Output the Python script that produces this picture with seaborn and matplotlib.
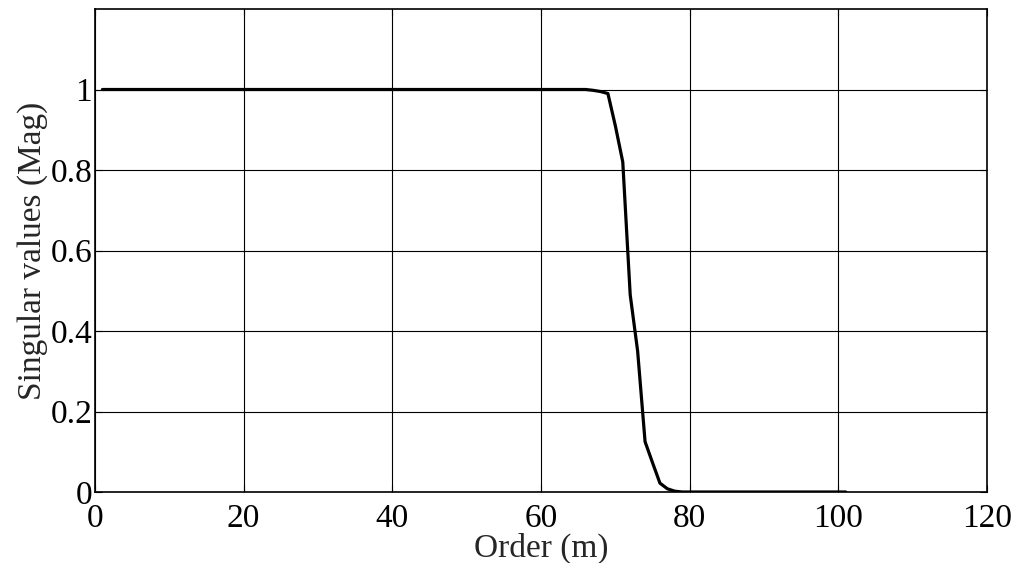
import matplotlib
matplotlib.use("Agg")
import matplotlib.pyplot as plt
import numpy as np
import pandas as pd
import seaborn as sns

# Normalized singular values versus model order
order = list(range(1, 102))
singular_values = [
    1.0, 1.0, 1.0, 1.0, 1.0, 1.0, 1.0, 1.0, 1.0, 1.0,
    1.0, 1.0, 1.0, 1.0, 1.0, 1.0, 1.0, 1.0, 1.0, 1.0,
    1.0, 1.0, 1.0, 1.0, 1.0, 1.0, 1.0, 1.0, 1.0, 1.0,
    1.0, 1.0, 1.0, 1.0, 1.0, 1.0, 1.0, 1.0, 1.0, 1.0,
    1.0, 1.0, 1.0, 1.0, 1.0, 1.0, 1.0, 1.0, 1.0, 1.0,
    1.0, 1.0, 1.0, 1.0, 1.0, 1.0, 1.0, 1.0, 1.0, 1.0,
    1.0, 1.0, 1.0, 1.0, 1.0, 1.0, 0.998, 0.995, 0.99, 0.91,
    0.82, 0.49, 0.35, 0.125, 0.073, 0.022, 0.008, 0.002, 0.0, 0.0,
    0.0, 0.0, 0.0, 0.0, 0.0, 0.0, 0.0, 0.0, 0.0, 0.0,
    0.0, 0.0, 0.0, 0.0, 0.0, 0.0, 0.0, 0.0, 0.0, 0.0,
    0.0,
]
x_ticks = [0, 20, 40, 60, 80, 100, 120]
y_ticks = [0, 0.2, 0.4, 0.6, 0.8, 1]
y_tick_labels = ["0", "0.2", "0.4", "0.6", "0.8", "1"]

df = pd.DataFrame({"Order": order, "Singular": singular_values})

sns.set_style("white")
plt.rcParams["font.family"] = ["Liberation Serif", "DejaVu Serif"]

fig = plt.figure(figsize=(10.18, 5.63), dpi=100)
ax = fig.add_axes([95 / 1018, 71 / 563, 892 / 1018, 483 / 563])

sns.lineplot(data=df, x="Order", y="Singular", color="black", linewidth=2.3, ax=ax)

ax.set_xlim(0, 120)
ax.set_ylim(0, 1.2)
ax.set_xticks(x_ticks)
ax.set_xticklabels([str(t) for t in x_ticks])
ax.set_yticks(y_ticks)
ax.set_yticklabels(y_tick_labels)

ax.grid(True, color="black", linewidth=0.8, linestyle="-")
ax.set_axisbelow(True)

for side in ["left", "right", "top", "bottom"]:
    ax.spines[side].set_visible(True)
    ax.spines[side].set_color("black")
    ax.spines[side].set_linewidth(1.2)

ax.tick_params(axis="both", which="major", direction="in", length=5, width=0.8,
               labelsize=24, colors="black", top=True, right=True,
               bottom=True, left=True)
ax.tick_params(axis="x", pad=8)
ax.tick_params(axis="y", pad=2)

ax.set_xlabel("Order (m)", fontsize=24, labelpad=-0.5)
ax.set_ylabel("Singular values (Mag)", fontsize=24, labelpad=2)

fig.savefig("out.png", dpi=100)
